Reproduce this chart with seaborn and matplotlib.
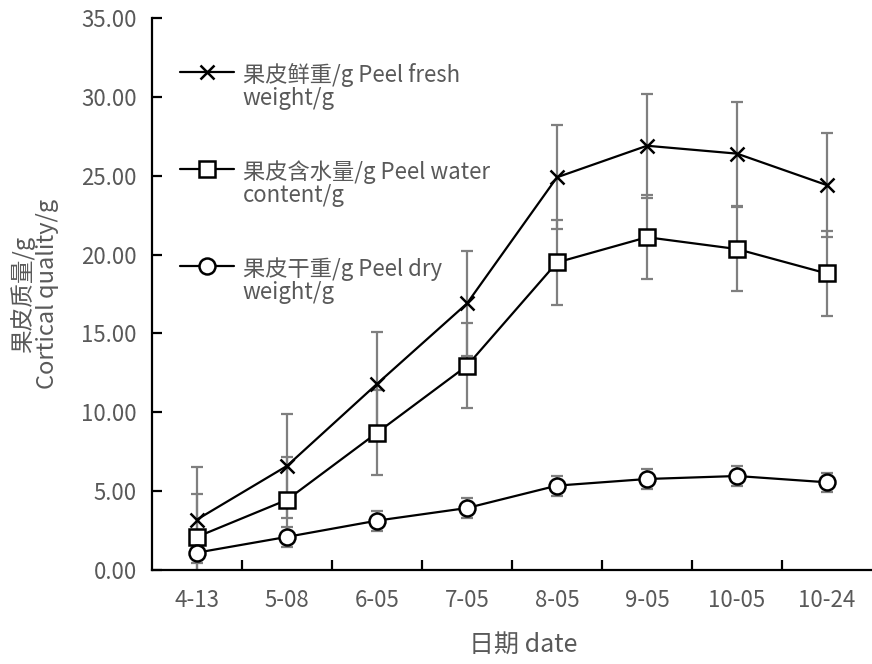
import matplotlib
matplotlib.use("Agg")
import matplotlib.pyplot as plt
import seaborn as sns
import pandas as pd

dates = ["4-13", "5-08", "6-05", "7-05", "8-05", "9-05", "10-05", "10-24"]
fresh = [3.2, 6.6, 11.8, 16.9, 24.9, 26.9, 26.4, 24.4]
fresh_err = [3.35, 3.3, 3.3, 3.3, 3.3, 3.3, 3.3, 3.3]
water = [2.1, 4.45, 8.7, 12.95, 19.5, 21.1, 20.35, 18.8]
water_err = [2.7, 2.7, 2.7, 2.7, 2.7, 2.65, 2.65, 2.7]
dry = [1.1, 2.1, 3.13, 3.93, 5.35, 5.77, 5.96, 5.56]
dry_err = [0.65, 0.62, 0.63, 0.62, 0.63, 0.62, 0.62, 0.62]

labels = ["果皮鲜重/g Peel fresh\nweight/g",
          "果皮含水量/g Peel water\ncontent/g",
          "果皮干重/g Peel dry\nweight/g"]
yticks = [0, 5, 10, 15, 20, 25, 30, 35]

sns.set_style("white")
plt.rcParams['font.family'] = ['Noto Sans CJK SC', 'DejaVu Sans']

TXT = "#595959"
ERR = "#7f7f7f"

fig = plt.figure(figsize=(8.72, 6.64), dpi=100)
ax = fig.add_axes([152/872, (664-570)/664, 1 - 152/872, (570-18)/664])

series = [(fresh, fresh_err, "x", 10, labels[0]),
          (water, water_err, "s", 11, labels[1]),
          (dry, dry_err, "o", 11.5, labels[2])]

for vals, errs, mk, ms, lab in series:
    df = pd.DataFrame({"date": dates, "value": vals})
    ax.errorbar(df["date"], df["value"], yerr=errs, fmt="none", ecolor=ERR,
                elinewidth=1.6, capsize=4.5, capthick=1.6, zorder=1)
    sns.lineplot(data=df, x="date", y="value", ax=ax, color="black", linewidth=1.6,
                 marker=mk, markersize=ms, markerfacecolor="white",
                 markeredgecolor="black", markeredgewidth=1.8, label=lab,
                 sort=False, zorder=3)

ax.set_xlim(-0.5, 7.5)
ax.set_ylim(0, 35)
ax.set_yticks(yticks)
ax.set_yticklabels([f"{v:.2f}" for v in yticks])
ax.set_xticks(range(len(dates)))
ax.set_xticklabels(dates)
ax.set_xticks([i + 0.5 for i in range(len(dates) - 1)], minor=True)

for s in ["top", "right"]:
    ax.spines[s].set_visible(False)
for s in ["left", "bottom"]:
    ax.spines[s].set_color("black")
    ax.spines[s].set_linewidth(1.6)

ax.tick_params(axis="y", which="major", direction="in", length=7, width=1.6,
               color="black", labelsize=16, labelcolor=TXT, pad=11, left=True)
ax.tick_params(axis="x", which="major", length=0, labelsize=16, labelcolor=TXT, pad=14)
ax.tick_params(axis="x", which="minor", direction="in", length=7, width=1.6,
               color="black", bottom=True)

ax.set_xlabel("日期 date", fontsize=18, color=TXT)
ax.set_ylabel("果皮质量/g\nCortical quality/g", fontsize=17, color=TXT,
              linespacing=1.05)
ax.xaxis.set_label_coords(0.515, -0.112)
ax.yaxis.set_label_coords(-0.129, 0.5)

leg = ax.legend(loc="upper left", bbox_to_anchor=(0.027, 0.935), frameon=False,
                fontsize=16, labelcolor=TXT, handlelength=2.4, handletextpad=0.4,
                labelspacing=2.25, handleheight=1.0, borderaxespad=0)
for t in leg.get_texts():
    t.set_linespacing(1.02)
try:
    for col in leg._legend_handle_box.get_children():
        for hp in col.get_children():
            hp.align = "top"
except Exception:
    pass

ax.grid(False)
fig.savefig("out.png", dpi=100)
